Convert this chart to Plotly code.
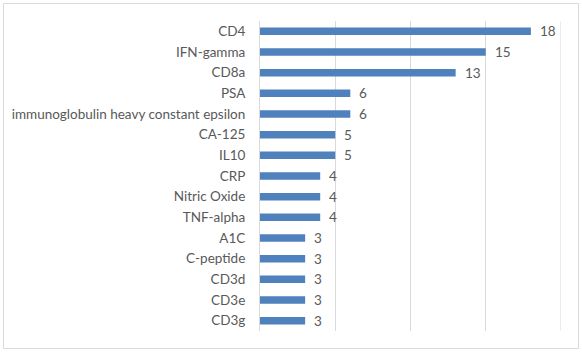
import plotly.graph_objects as go

categories = ["CD4", "IFN-gamma", "CD8a", "PSA", "immunoglobulin heavy constant epsilon",
              "CA-125", "IL10", "CRP", "Nitric Oxide", "TNF-alpha", "A1C", "C-peptide",
              "CD3d", "CD3e", "CD3g"]
values = [18, 15, 13, 6, 6, 5, 5, 4, 4, 4, 3, 3, 3, 3, 3]
x_max = 20

BAR = "#4F81BD"
TEXT = "#595959"
GRID = "#D9D9D9"
FONT = "Lato"
FS = 13.5

fig = go.Figure(go.Bar(
    x=values, y=categories, orientation="h",
    marker=dict(color=BAR, line=dict(width=0)),
    hoverinfo="skip",
))

for c, v in zip(categories, values):
    fig.add_annotation(x=v, y=c, text=str(v), showarrow=False, xanchor="left",
                       xshift=7, font=dict(family=FONT, size=FS, color=TEXT))

fig.update_layout(
    width=582, height=352,
    margin=dict(l=260, r=21, t=21, b=21, autoexpand=False),
    paper_bgcolor="white", plot_bgcolor="white",
    bargap=0.64,
    showlegend=False,
    font=dict(family=FONT, size=FS, color=TEXT),
    xaxis=dict(range=[0, x_max], dtick=5, showgrid=True, gridcolor=GRID, gridwidth=1,
               showticklabels=False, zeroline=False, showline=False, ticks=""),
    yaxis=dict(autorange="reversed", showgrid=False, showline=True, linecolor=GRID,
               linewidth=1, ticks="", ticklabelstandoff=11, automargin=False,
               tickfont=dict(family=FONT, size=FS, color=TEXT)),
    shapes=[
        dict(type="rect", xref="paper", yref="paper",
             x0=(3.5 - 260) / 301, x1=(578.5 - 260) / 301,
             y0=(331 - 348.5) / 310, y1=(331 - 3.5) / 310,
             line=dict(color=GRID, width=1), fillcolor="rgba(0,0,0,0)", layer="below"),
        dict(type="line", xref="x", yref="paper", x0=x_max, x1=x_max, y0=0, y1=1,
             line=dict(color=GRID, width=1), layer="below"),
    ],
)

fig.write_html("out.html", config={"displayModeBar": False},
               post_script="document.body.style.margin='0';")
